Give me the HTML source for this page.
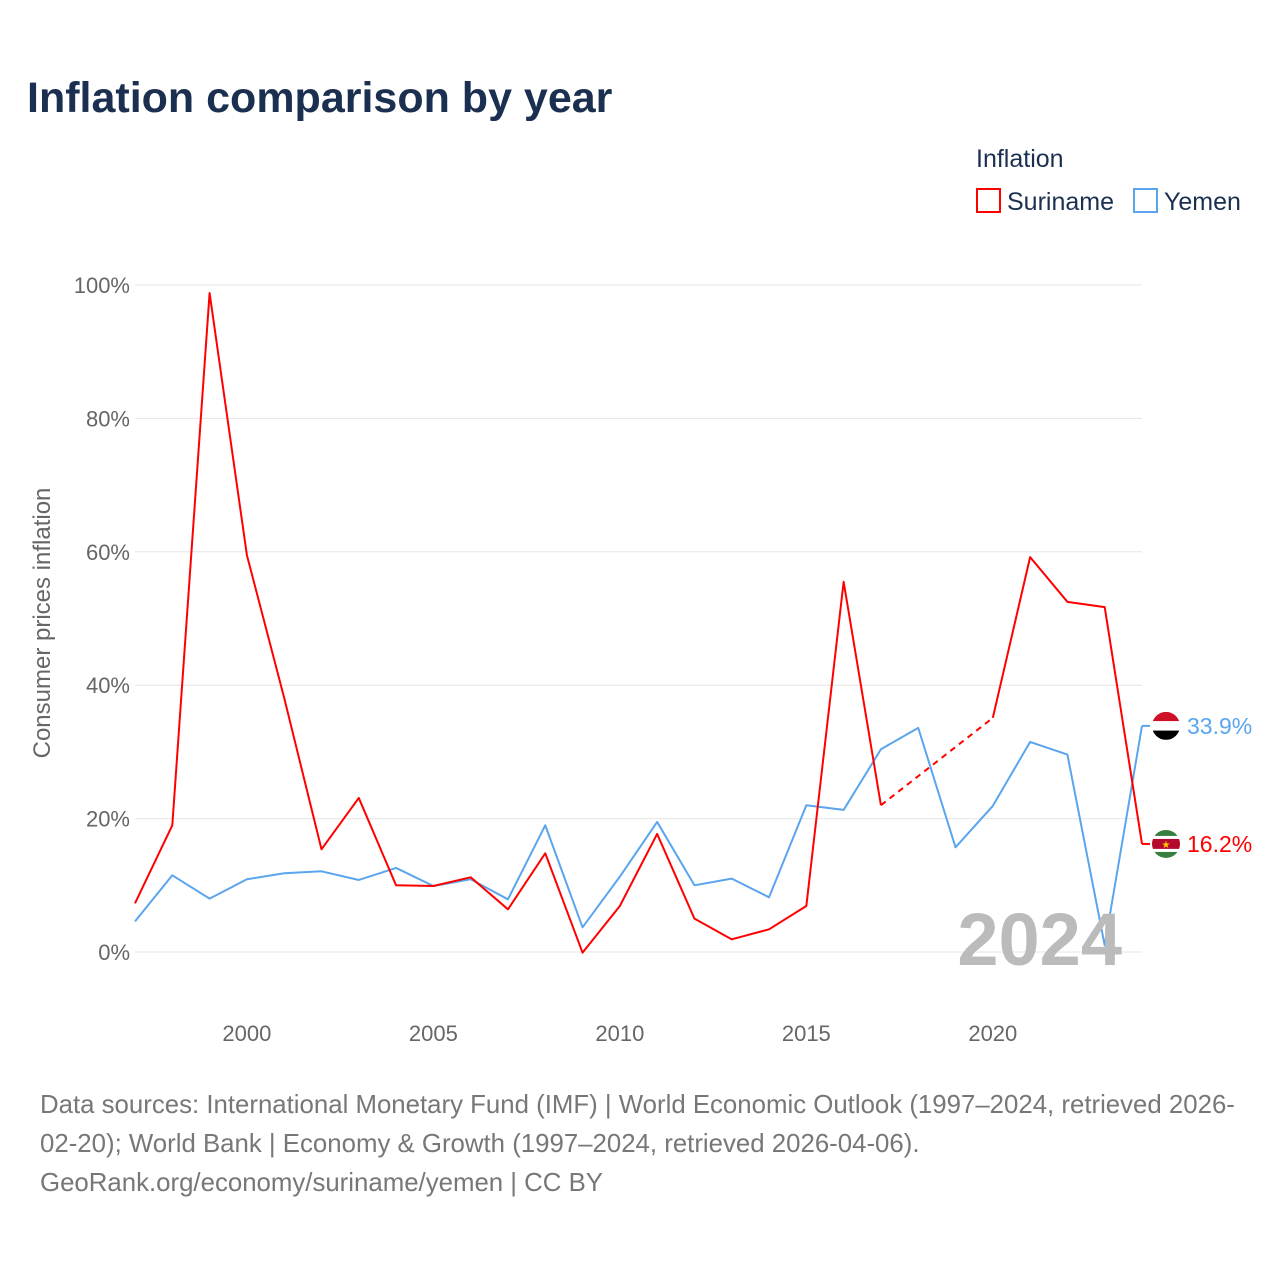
<!DOCTYPE html>
<html><head><meta charset="utf-8">
<style>
body{margin:0;background:#fff;font-family:"Liberation Sans",sans-serif;}
svg text{font-family:"Liberation Sans",sans-serif;}
</style></head>
<body>
<svg id="chart" width="1280" height="1280" xmlns="http://www.w3.org/2000/svg">
<rect width="1280" height="1280" fill="#fff"/>
<text x="27" y="112" font-size="43" font-weight="bold" fill="#1b3050">Inflation comparison by year</text>
<text x="976" y="167" font-size="25" fill="#1b3050">Inflation</text>
<g>
<rect x="977" y="189" width="23" height="23" fill="none" stroke="#f00" stroke-width="2"/>
<text x="1007" y="210" font-size="25" fill="#1b3050">Suriname</text></g>
<g>
<rect x="1134" y="189" width="23" height="23" fill="none" stroke="#5aa5ee" stroke-width="2"/>
<text x="1164" y="210" font-size="25" fill="#1b3050">Yemen</text></g>
<text transform="translate(50,623) rotate(-90)" text-anchor="middle" font-size="24" fill="#666">Consumer prices inflation</text>
<g id="grid"></g><g id="series"></g>
<text x="1122" y="965" text-anchor="end" font-size="74" font-weight="bold" fill="#bbb">2024</text>
<text font-size="25.8" fill="#777"><tspan x="40" y="1113">Data sources: International Monetary Fund (IMF) | World Economic Outlook (1997–2024, retrieved 2026-</tspan><tspan x="40" y="1152">02-20); World Bank | Economy &amp; Growth (1997–2024, retrieved 2026-04-06).</tspan><tspan x="40" y="1191">GeoRank.org/economy/suriname/yemen | CC BY</tspan></text>
</svg>
<script>
const years=[1997,1998,1999,2000,2001,2002,2003,2004,2005,2006,2007,2008,2009,2010,2011,2012,2013,2014,2015,2016,2017,2018,2019,2020,2021,2022,2023,2024];
const suriname=[7.3,19.0,98.8,59.5,38.1,15.4,23.1,10.0,9.9,11.2,6.4,14.8,-0.1,6.9,17.7,5.0,1.9,3.4,6.9,55.5,22.0,null,null,35.1,59.2,52.5,51.7,16.2];
const yemen=[4.6,11.5,8.0,10.9,11.8,12.1,10.8,12.6,9.9,10.9,7.9,19.0,3.7,11.3,19.5,10.0,11.0,8.2,22.0,21.3,30.4,33.6,15.7,21.9,31.5,29.6,1.0,33.9];
const yTicks=[0,20,40,60,80,100];
const xTicks=[2000,2005,2010,2015,2020];
const NS="http://www.w3.org/2000/svg";
const X=y=>135+(y-1997)*(1142-135)/27;
const Y=v=>952-v*6.67;
function mk(t,a,p){const e=document.createElementNS(NS,t);for(const k in a)e.setAttribute(k,a[k]);p.appendChild(e);return e;}
const g=document.getElementById('grid'),s=document.getElementById('series');
yTicks.forEach(v=>{
 const l=mk('line',{x1:135,x2:1142,y1:Y(v),y2:Y(v),stroke:'#e6e6e6'},g);
 
 
 const t=mk('text',{x:130,y:Y(v)+8,'text-anchor':'end','font-size':22,fill:'#666'},g);t.textContent=v+'%';
 
 
});
xTicks.forEach(v=>{
 const t=mk('text',{x:X(v),y:1041,'text-anchor':'middle','font-size':22,fill:'#666'},g);t.textContent=v;
 
 
});
function draw(vals,color,name){
 let segs=[],cur=[];
 vals.forEach((v,i)=>{if(v==null){if(cur.length)segs.push(cur);cur=[];}else cur.push([X(years[i]),Y(v)]);});
 if(cur.length)segs.push(cur);
 segs.forEach((sg,k)=>{
  const p=mk('polyline',{points:sg.map(q=>q.join(',')).join(' '),fill:'none',stroke:color,'stroke-width':2,'stroke-linejoin':'round'},s);
  
  
  if(k>0){const a=segs[k-1][segs[k-1].length-1],b=sg[0];
   const d=mk('line',{x1:a[0],y1:a[1],x2:b[0],y2:b[1],stroke:color,'stroke-width':2,'stroke-dasharray':'6,5'},s);
   
   }
 });
}
draw(yemen,'#5aa5ee','yemen');
draw(suriname,'#f00','suriname');
function endLabel(v,color,name,flag){
 const y=Y(v),x=X(2024);
 mk('line',{x1:x,y1:y,x2:x+8,y2:y,stroke:color,'stroke-width':2},s);
 const gg=mk('g',{},s);
 
 
 const cx=1166;
 const cp=mk('clipPath',{id:'c'+name},gg);mk('circle',{cx:cx,cy:y,r:14},cp);
 const inner=mk('g',{'clip-path':'url(#c'+name+')'},gg);
 flag.forEach(f=>mk('rect',{x:cx-14,y:y-14+f[0],width:28,height:f[1],fill:f[2]},inner));
 if(name==='suriname'){const st=mk('text',{x:cx,y:y+4,'text-anchor':'middle','font-size':10,fill:'#fc0'},inner);st.textContent='★';}
 const t=mk('text',{x:1187,y:y+8,'font-size':23,fill:color},s);t.textContent=v.toFixed(1)+'%';
 
 
}
endLabel(yemen[27],'#5aa5ee','yemen',[[0,9.3,'#ce1126'],[9.3,9.4,'#fff'],[18.7,9.3,'#000']]);
endLabel(suriname[27],'#f00','suriname',[[0,6,'#377e3f'],[6,3,'#fff'],[9,10,'#b40a2d'],[19,3,'#fff'],[22,6,'#377e3f']]);
</script>
</body></html>
